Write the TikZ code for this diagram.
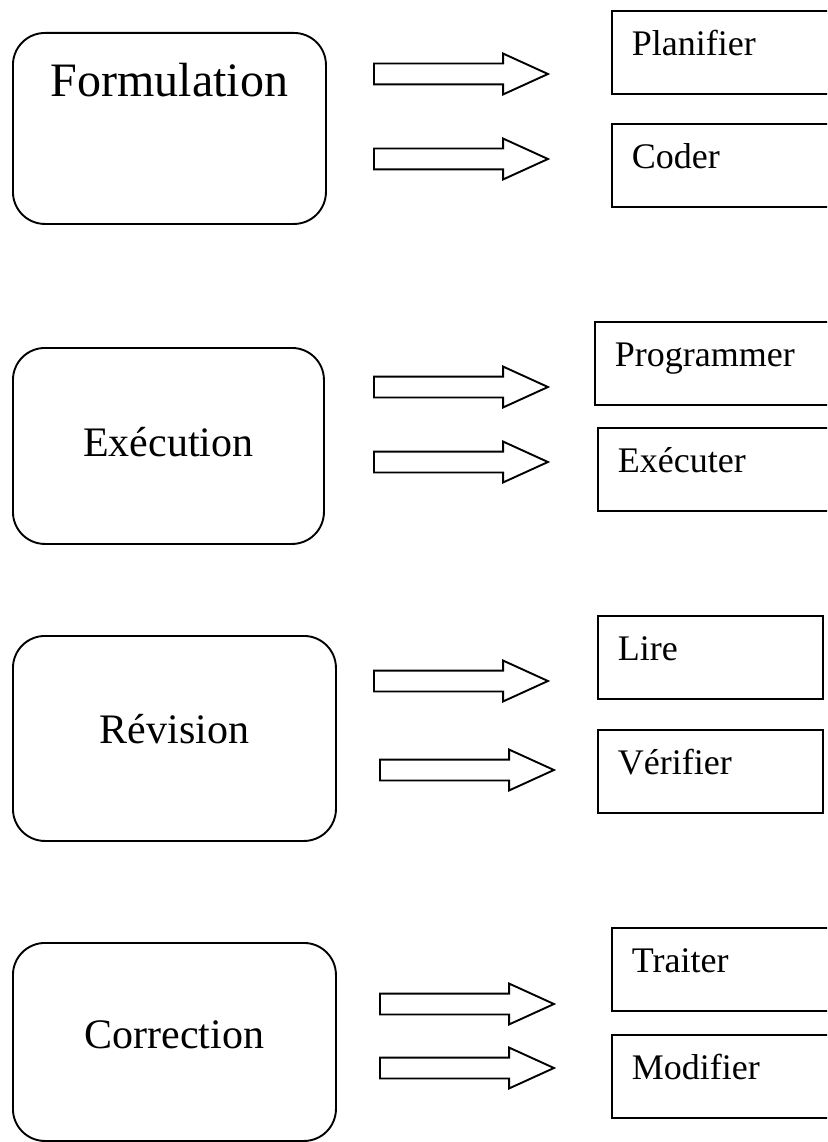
\documentclass[tikz,border=0pt]{standalone}
\usepackage{fontspec}
\setmainfont{Liberation Serif}
\usetikzlibrary{positioning,shapes.arrows}

\begin{document}
\begin{tikzpicture}[x=1pt, y=-1pt, line width=1.9pt,
      phase/.style={draw, rounded corners=32pt, anchor=north west, inner sep=0pt,
                    text width=#1, align=center, font=\fontsize{42}{50}\selectfont},
      task/.style={draw, anchor=north west, inner xsep=20pt, inner ysep=0pt,
                   text width=#1, align=left, text height=45pt, text depth=38pt,
                   font=\fontsize{36}{43}\selectfont},
      blockarrow/.style={draw, single arrow, anchor=tail, minimum height=174pt, inner sep=9.5pt,
                   single arrow head extend=10pt, single arrow tip angle=49}]
  \useasboundingbox (0,0) rectangle (827,1142);
  \clip (0,0) rectangle (827,1142);

  \node[phase=313pt, text height=64pt, text depth=127pt, font=\fontsize{48}{58}\selectfont] (form) at (12,32) {Formulation};
  \node[phase=311pt, text height=109pt, text depth=87pt] (exec) at (12,347) {Exécution};
  \node[phase=323pt, text height=108pt, text depth=97pt] (rev) at (12,635) {Révision};
  \node[phase=323pt, text height=106pt, text depth=92pt] (corr) at (12,942) {Correction};

  \node[task=220pt] (plan) at (611,10) {Planifier};
  \node[task=220pt] (coder) at (611,123) {Coder};
  \node[task=220pt] (prog) at (594,321) {Programmer};
  \node[task=220pt] (execr) at (597,427) {Exécuter};
  \node[task=185pt] (lire) at (597,615) {Lire};
  \node[task=185pt] (verif) at (597,729) {Vérifier};
  \node[task=220pt] (trait) at (611,927) {Traiter};
  \node[task=220pt] (modif) at (611,1034) {Modifier};

  \node[blockarrow] (fa) at (373,74) {};
  \node[blockarrow] (fb) at (373,159) {};
  \node[blockarrow] (ea) at (373,387) {};
  \node[blockarrow] (eb) at (373,462) {};
  \node[blockarrow] (ra) at (373,681) {};
  \node[blockarrow] (rb) at (379,770) {};
  \node[blockarrow] (ca) at (379,1004) {};
  \node[blockarrow] (cb) at (379,1068) {};
\end{tikzpicture}
\end{document}
